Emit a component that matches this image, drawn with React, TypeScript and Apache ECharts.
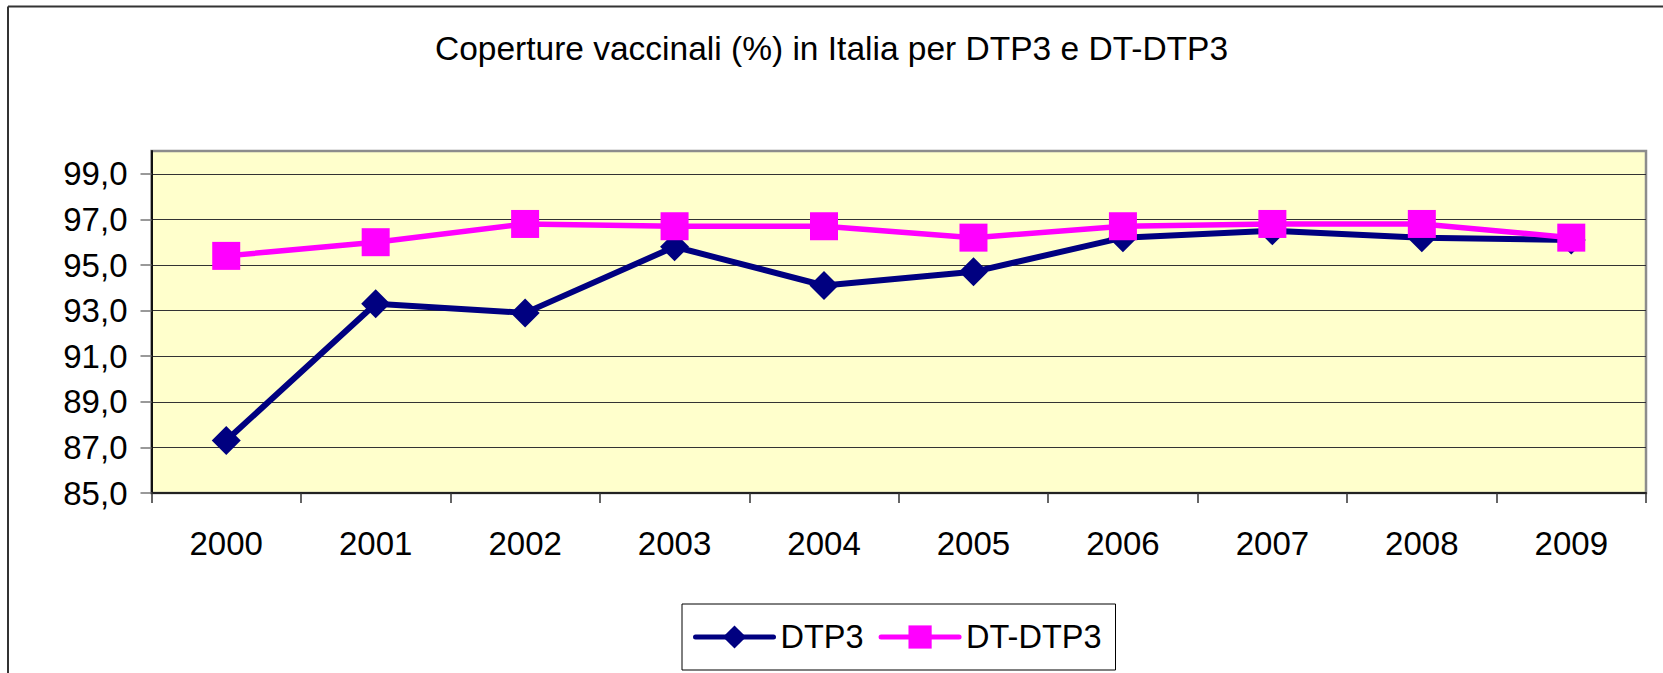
import React, { useEffect, useRef } from 'react';
import * as echarts from 'echarts';

const titleText = 'Coperture vaccinali (%) in Italia per DTP3 e DT-DTP3';
const years = ['2000', '2001', '2002', '2003', '2004', '2005', '2006', '2007', '2008', '2009'];
const dtp3 = [87.3, 93.3, 92.9, 95.8, 94.1, 94.7, 96.2, 96.5, 96.2, 96.1];
const dtDtp3 = [95.4, 96.0, 96.8, 96.7, 96.7, 96.2, 96.7, 96.8, 96.8, 96.2];
const yTicks = [85, 87, 89, 91, 93, 95, 97, 99];
const seriesNames = ['DTP3', 'DT-DTP3'];

const FONT = "'Liberation Sans', Arial, sans-serif";

export default function App() {
  const ref = useRef<HTMLDivElement>(null);
  useEffect(() => {
    if (!ref.current) return;
    const chart = echarts.init(ref.current, undefined, { renderer: 'svg' });
    chart.setOption({
      animation: false,
      backgroundColor: '#FFFFFF',
      textStyle: { fontFamily: FONT },
      title: {
        text: titleText,
        left: 'center',
        top: 31,
        padding: [0, 0, 0, 28],
        textStyle: { fontSize: 33.5, fontWeight: 'normal', color: '#000', lineHeight: 34, fontFamily: FONT },
      },
      grid: {
        left: 151.5,
        top: 151,
        right: 17,
        bottom: 180,
        show: true,
        backgroundColor: '#FFFFCC',
        borderColor: '#8C8C8C',
        borderWidth: 2.5,
      },
      xAxis: {
        type: 'category',
        data: years,
        boundaryGap: true,
        axisLine: { lineStyle: { color: '#222', width: 2 } },
        axisTick: { show: true, length: 10, lineStyle: { color: '#333', width: 1.5 } },
        axisLabel: { fontSize: 33, color: '#000', margin: 34, lineHeight: 33, fontFamily: FONT },
        splitLine: { show: false },
      },
      yAxis: {
        type: 'value',
        min: 85,
        max: 100,
        axisLine: { show: true, lineStyle: { color: '#111', width: 2 } },
        axisTick: { show: true, length: 11, customValues: yTicks, lineStyle: { color: '#777', width: 1.5 } },
        axisLabel: {
          customValues: yTicks,
          fontSize: 33,
          color: '#000',
          margin: 24,
          fontFamily: FONT,
          formatter: (v: number) => v.toFixed(1).replace('.', ','),
        },
        splitLine: { show: true, lineStyle: { color: '#333', width: 1 } },
      },
      legend: {
        data: seriesNames,
        left: 682,
        top: 604,
        orient: 'horizontal',
        itemWidth: 78,
        itemHeight: 29,
        itemGap: 15,
        padding: [14, 14, 14, 11],
        borderColor: '#000',
        borderWidth: 1,
        lineStyle: { width: 5, cap: 'round' },
        textStyle: { fontSize: 32.5, color: '#000', lineHeight: 34, fontFamily: FONT, padding: [4, 0, 0, 2] },
      },
      graphic: [
        { type: 'line', shape: { x1: 8, y1: 6.5, x2: 1663, y2: 6.5 }, style: { stroke: '#333', lineWidth: 2 } },
        { type: 'line', shape: { x1: 8, y1: 6.5, x2: 8, y2: 673 }, style: { stroke: '#333', lineWidth: 2 } },
      ],
      series: [
        {
          name: seriesNames[0],
          type: 'line',
          data: dtp3,
          symbol: 'diamond',
          symbolSize: 29,
          showAllSymbol: true,
          lineStyle: { color: '#000080', width: 6 },
          itemStyle: { color: '#000080' },
        },
        {
          name: seriesNames[1],
          type: 'line',
          data: dtDtp3,
          symbol: 'rect',
          symbolSize: 28,
          showAllSymbol: true,
          lineStyle: { color: '#FF00FF', width: 5.5 },
          itemStyle: { color: '#FF00FF' },
        },
      ],
    });
    return () => chart.dispose();
  }, []);
  return <div ref={ref} style={{ position: 'fixed', left: 0, top: 0, width: 1663, height: 673 }} />;
}
